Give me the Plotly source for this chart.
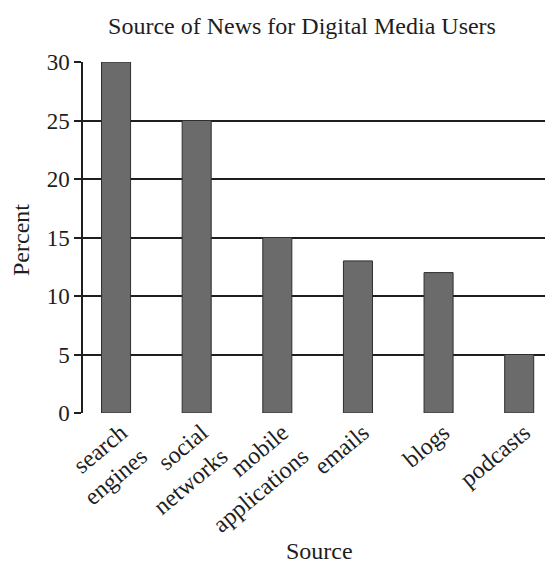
import plotly.graph_objects as go

categories = ["search<br>engines", "social<br>networks", "mobile<br>applications", "emails", "blogs", "podcasts"]
percent = [30, 25, 15, 13, 12, 5]
y_ticks = [0, 5, 10, 15, 20, 25, 30]

FONT = "Liberation Serif"
INK = "#1e1e1e"

fig = go.Figure(go.Bar(
    x=list(range(len(categories))),
    y=percent,
    marker=dict(color="#6b6b6b", line=dict(color="#2e2e2e", width=1)),
    width=0.36,
))

L, R, T, B = 83, 0, 62, 152
W, H = 545, 565
pw, ph = W - L - R, H - T - B

fig.update_layout(
    width=W, height=H,
    margin=dict(l=L, r=R, t=T, b=B, autoexpand=False),
    paper_bgcolor="white", plot_bgcolor="white",
    font=dict(family=FONT, color=INK, size=24),
    showlegend=False,
    title=dict(text="Source of News for Digital Media Users", x=302 / W, xanchor="center",
               xref="container", y=1 - 26 / H, yanchor="middle", yref="container",
               font=dict(family=FONT, size=24, color=INK), automargin=False),
    xaxis=dict(
        range=[-0.41, 5.32], tickmode="array", tickvals=list(range(len(categories))),
        ticktext=categories, tickangle=-40, showgrid=False, zeroline=False,
        showline=False, ticks="", tickfont=dict(size=24), automargin=False,
        ticklabelshift=5,
    ),
    yaxis=dict(
        range=[0, 30], tickmode="array", tickvals=y_ticks, ticktext=[str(v) for v in y_ticks],
        showgrid=True, gridcolor=INK, gridwidth=1.5, zeroline=False,
        showline=True, linecolor=INK, linewidth=1.5,
        ticks="outside", ticklen=7, tickwidth=1.5, tickcolor=INK,
        tickfont=dict(size=23), automargin=False,
    ),
    annotations=[
        dict(text="Percent", xref="paper", x=-(L - 21) / pw, xanchor="center",
             yref="paper", y=(413 - 240) / ph, yanchor="middle",
             showarrow=False, textangle=-90, font=dict(size=24)),
        dict(text="Source", xref="paper", x=(319 - L) / pw, xanchor="center",
             yref="paper", y=-(551 - 413) / ph, yanchor="middle",
             showarrow=False, font=dict(size=24)),
    ],
)

fig.write_html(
    "out.html",
    config={"displayModeBar": False},
    post_script="document.body.style.margin='0';document.body.style.padding='0';",
)
